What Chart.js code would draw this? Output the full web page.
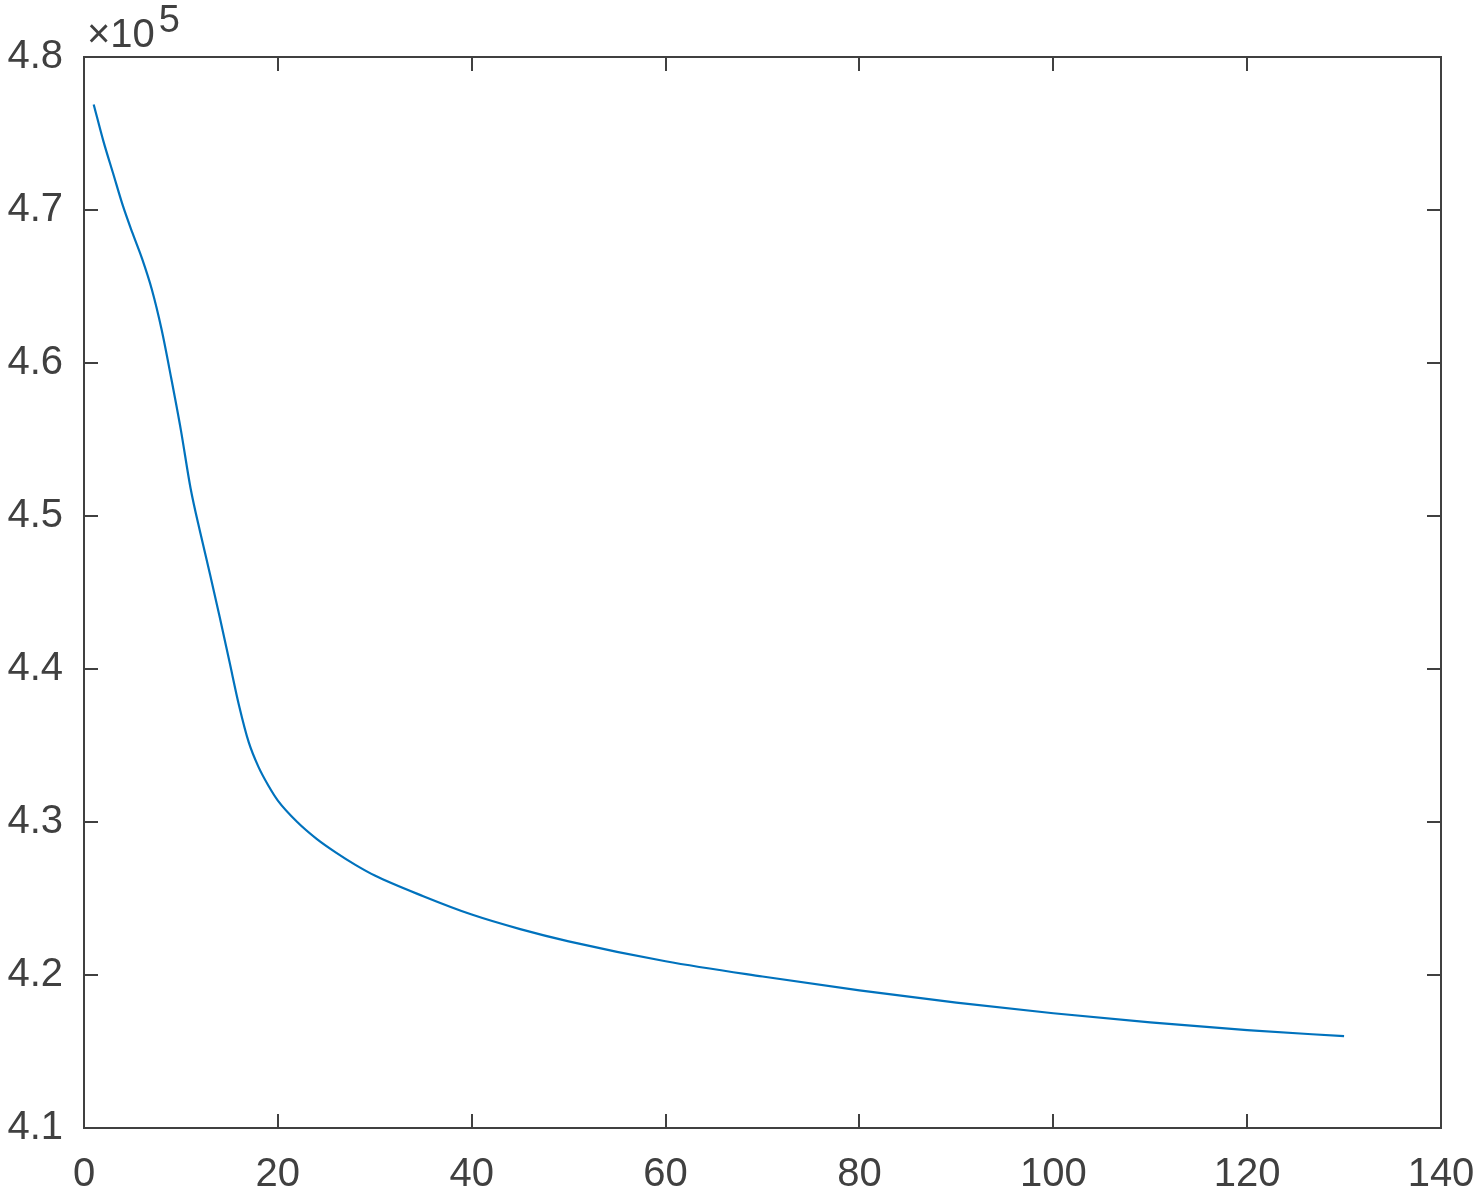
<!DOCTYPE html>
<html>
<head>
  <meta charset="UTF-8" />
  <title>Convergence curve</title>
  <script src="https://cdn.jsdelivr.net/npm/chart.js"></script>
  <style>
    html, body { margin: 0; padding: 0; background: #fff; }
    #wrap { width: 1479px; height: 1193px; position: relative; }
  </style>
</head>
<body>
  <div id="wrap"><canvas id="chart"></canvas></div>

  <script>
    const iterations = [1, 2, 3, 4, 5, 6, 7, 8, 9, 10, 11, 12, 13, 14, 15, 16, 17, 18, 19, 20,
      22, 24, 26, 28, 30, 35, 40, 45, 50, 60, 70, 80, 90, 100, 110, 120, 130];
    const values = [476900, 474500, 472400, 470300, 468500, 466800, 464800, 462200, 459000, 455600,
      451800, 448900, 446200, 443400, 440500, 437600, 435200, 433600, 432400, 431400,
      430000, 428900, 428000, 427200, 426500, 425150, 423950, 423000, 422200, 420900, 419900,
      419000, 418200, 417500, 416900, 416400, 416000];
    const xRange = [0, 140];
    const xStep = 20;
    const yRange = [410000, 480000];
    const yStep = 10000;
    const yExponent = 5;

    const axisColor = '#404040';
    const fontFamily = '"Liberation Sans", Arial, Helvetica, sans-serif';
    const tickLen = -14; // negative -> ticks point into the plot, like matlab

    const points = iterations.map((x, i) => ({ x: x, y: values[i] }));

    const expLabel = {
      id: 'expLabel',
      afterDraw(chart) {
        const { ctx, chartArea } = chart;
        ctx.save();
        ctx.fillStyle = axisColor;
        ctx.textBaseline = 'alphabetic';
        ctx.textAlign = 'left';
        ctx.font = '40px ' + fontFamily;
        const base = '\u00d710';
        ctx.fillText(base, chartArea.left + 3, chartArea.top - 10);
        const w = ctx.measureText(base).width;
        ctx.font = '38px ' + fontFamily;
        ctx.fillText(String(yExponent), chartArea.left + 3 + w + 4, chartArea.top - 25);
        ctx.restore();
      }
    };

    function sideAxis(position, range, step) {
      return {
        type: 'linear',
        position: position,
        min: range[0], max: range[1],
        ticks: { display: false, stepSize: step },
        grid: { drawOnChartArea: false, drawTicks: true, tickLength: tickLen, color: axisColor, lineWidth: 2 },
        border: { display: true, color: axisColor, width: 2 },
        afterFit(scale) {
          if (scale.isHorizontal()) scale.height = 0;
          else scale.width = 0;
          scale.paddingLeft = scale.paddingRight = scale.paddingTop = scale.paddingBottom = 0;
        }
      };
    }

    new Chart(document.getElementById('chart'), {
      type: 'line',
      data: {
        datasets: [{
          data: points,
          borderColor: '#0072BD',
          borderWidth: 2.2,
          pointRadius: 0,
          cubicInterpolationMode: 'monotone',
          fill: false,
          xAxisID: 'x',
          yAxisID: 'y'
        }]
      },
      options: {
        responsive: true,
        maintainAspectRatio: false,
        animation: false,
        layout: { padding: { left: 0, top: 57, right: 38, bottom: 0 } },
        plugins: { legend: { display: false }, tooltip: { enabled: false } },
        scales: {
          x: {
            type: 'linear',
            position: 'bottom',
            min: xRange[0], max: xRange[1],
            ticks: {
              stepSize: xStep,
              color: axisColor,
              font: { size: 40, family: fontFamily },
              padding: 37,
              maxRotation: 0
            },
            grid: { drawOnChartArea: false, drawTicks: true, tickLength: tickLen, color: axisColor, lineWidth: 2 },
            border: { display: true, color: axisColor, width: 2 },
            afterFit(scale) {
              scale.height = 65;
              scale.paddingLeft = scale.paddingRight = 0;
            }
          },
          y: {
            type: 'linear',
            position: 'left',
            min: yRange[0], max: yRange[1],
            ticks: {
              stepSize: yStep,
              color: axisColor,
              font: { size: 40, family: fontFamily },
              padding: 35,
              callback: v => (v / Math.pow(10, yExponent)).toFixed(1)
            },
            grid: { drawOnChartArea: false, drawTicks: true, tickLength: tickLen, color: axisColor, lineWidth: 2 },
            border: { display: true, color: axisColor, width: 2 },
            afterFit(scale) {
              scale.width = 84;
              scale.paddingTop = scale.paddingBottom = 0;
            }
          },
          x2: sideAxis('top', xRange, xStep),
          y2: sideAxis('right', yRange, yStep)
        }
      },
      plugins: [expLabel]
    });
  </script>
</body>
</html>
